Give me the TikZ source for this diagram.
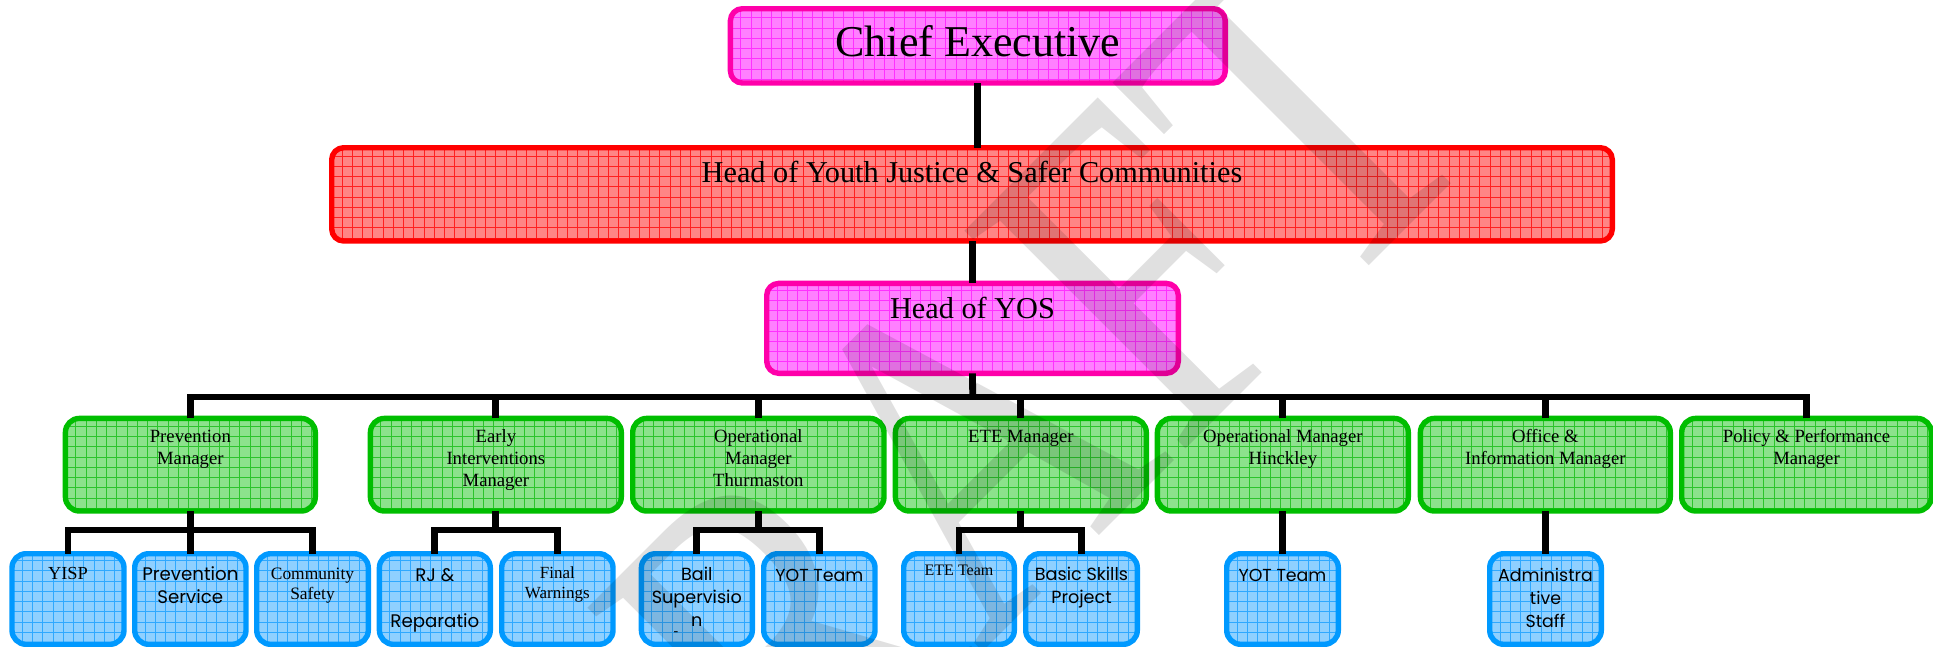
\documentclass[tikz,border=0pt]{standalone}
\usepackage{graphicx}
\usepackage{fontspec}
\setmainfont{Liberation Serif}
\newfontfamily\gothic{Poppins}
\usetikzlibrary{calc}
\definecolor{gfill}{HTML}{8CE28C}\definecolor{gline}{HTML}{00BE00}\definecolor{ggrid}{HTML}{2CC42C}
\definecolor{bfill}{HTML}{8FD0FF}\definecolor{bline}{HTML}{0099FF}\definecolor{bgrid}{HTML}{2FA8FF}
\definecolor{mfill}{HTML}{FF80FF}\definecolor{mline}{HTML}{FF00AA}\definecolor{mgrid}{HTML}{FF30FF}
\definecolor{rfill}{HTML}{FF8585}\definecolor{rline}{HTML}{FF0000}\definecolor{rgrid}{HTML}{FF2020}
\tikzset{
  orgbox/.style n args={4}{draw=#1,fill=#2,line width=5.4pt,rounded corners=#4,inner sep=0pt,outer sep=0pt,
    path picture={\draw[#3,line width=.55pt,xstep=10.25pt,ystep=10.25pt]
      (path picture bounding box.south west) grid (path picture bounding box.north east);}},
  gbox/.style={orgbox={gline}{gfill}{ggrid}{14pt}},
  bbox/.style={orgbox={bline}{bfill}{bgrid}{14pt}},
  mbox/.style={orgbox={mline}{mfill}{mgrid}{12pt}},
  rbox/.style={orgbox={rline}{rfill}{rgrid}{12pt}},
  link/.style={draw=black,line width=6.8pt},
}
% style, name, x1, y1, x2, y2, first baseline y, font+lines
\newcommand\ob[8]{%
  \pgfmathsetmacro\obx{(#3+#5)/2}\pgfmathsetmacro\oby{(#4+#6)/2}%
  \pgfmathsetmacro\obw{#5-#3-5.4}\pgfmathsetmacro\obh{#6-#4-5.4}\pgfmathsetmacro\oboff{#7-#4-2.7}%
  \node[#1] (#2) at (\obx,\oby) {\parbox[c][\obh pt][t]{\obw pt}{\centering\rule{0pt}{\oboff pt}#8}};}
\newcommand\tms[2]{\fontsize{#1}{#2}\selectfont}
\newcommand\gth[1]{\gothic\fontsize{#1}{23.3}\selectfont}
\begin{document}
\begin{tikzpicture}[x=1pt,y=-1pt]
\useasboundingbox (0,0) rectangle (1933,646);
\begin{scope}
\clip (0,0) rectangle (1933,646);
\ob{mbox}{chief}{727.7}{6}{1228}{85.7}{56.7}{\tms{44}{50}Chief Executive}
\ob{rbox}{head}{329}{145}{1615}{243.7}{182}{\tms{30.3}{34}Head of Youth Justice \& Safer Communities}
\ob{mbox}{yos}{764}{280.7}{1181}{376}{318}{\tms{30.3}{34}Head of YOS}
\ob{gbox}{pm}{62.7}{415.7}{318}{513.7}{442.7}{\tms{18.7}{22}Prevention\\Manager}
\ob{gbox}{eim}{367.7}{415.7}{624}{513.7}{442.7}{\tms{18.7}{22}Early\\Interventions\\Manager}
\ob{gbox}{omt}{630}{415.7}{886.7}{513.7}{442.7}{\tms{18.7}{22}Operational\\Manager\\Thurmaston}
\ob{gbox}{ete}{892.7}{415.7}{1149}{513.7}{442.7}{\tms{18.7}{22}ETE Manager}
\ob{gbox}{omh}{1154.7}{415.7}{1411}{513.7}{442.7}{\tms{18.7}{22}Operational Manager\\Hinckley}
\ob{gbox}{oim}{1417.7}{415.7}{1673}{513.7}{442.7}{\tms{18.7}{22}Office \&\\Information Manager}
\ob{gbox}{ppm}{1679}{415.7}{1934}{513.7}{442.7}{\tms{18.7}{22}Policy \& Performance\\Manager}
\ob{bbox}{yisp}{9.3}{551}{126.7}{647}{579}{\tms{18.4}{22}YISP}
\ob{bbox}{ps}{132}{551}{248.7}{647}{580}{\gth{18.2}Prevention\\Service}
\ob{bbox}{cs}{254}{551}{371}{647}{579}{\tms{17.4}{20}Community\\Safety}
\ob{bbox}{rj}{376.7}{551}{493}{647}{581}{\gth{18.2}RJ \&\\[23.3pt]Reparatio}
\ob{bbox}{fw}{499}{551}{615.7}{647}{578}{\tms{17}{20}Final\\Warnings}
\ob{bbox}{bail}{638.7}{551}{755}{647}{580}{\gth{17.6}Bail\\Supervisio\\n}
\ob{bbox}{yot}{761}{551}{877.7}{647}{581}{\gth{17.4}YOT Team}
\ob{bbox}{eteteam}{901}{551}{1017}{647}{575.7}{\tms{16}{20}ETE Team}
\ob{bbox}{bsp}{1023}{551}{1140}{647}{580}{\gth{17.6}Basic Skills\\Project}
\ob{bbox}{yoth}{1224}{551}{1341}{647}{581}{\gth{17.4}YOT Team}
\ob{bbox}{adm}{1487}{551}{1604}{647}{581}{\gth{17.4}Administra\\tive\\Staff}
\node[inner sep=0pt,font=\tms{14}{14}] (mark) at (676,634) {-};
% connectors
\coordinate (bus) at (972.7,397);
\draw[link] (chief.south) -- (chief.south |- head.north);
\draw[link] (yos.north |- head.south) -- (yos.north);
\draw[link] (yos.south) -- (bus);
\foreach \n in {pm,eim,omt,ete,omh,oim,ppm}{\draw[link,line join=miter] (\n.north) |- (bus);}
\foreach \p/\kids in {pm/{yisp,ps,cs},eim/{rj,fw},omt/{bail,yot},ete/{eteteam,bsp}}{
  \coordinate (sub) at ($(\p.south)+(0,19)$);
  \draw[link] (\p.south) -- (sub);
  \foreach \k in \kids {\draw[link] (\k.north) |- (sub);}
}
\draw[link] (omh.south) -- (omh.south |- yoth.north);
\draw[link] (oim.south) -- (oim.south |- adm.north);
% watermark
\node[rotate=45,anchor=base west,text=black,text opacity=.12,inner sep=0pt,font=\tms{474}{474}] (draft) at (603,1032) {\scalebox{.81}[1]{DRAFT}};
\end{scope}
\end{tikzpicture}
\end{document}
